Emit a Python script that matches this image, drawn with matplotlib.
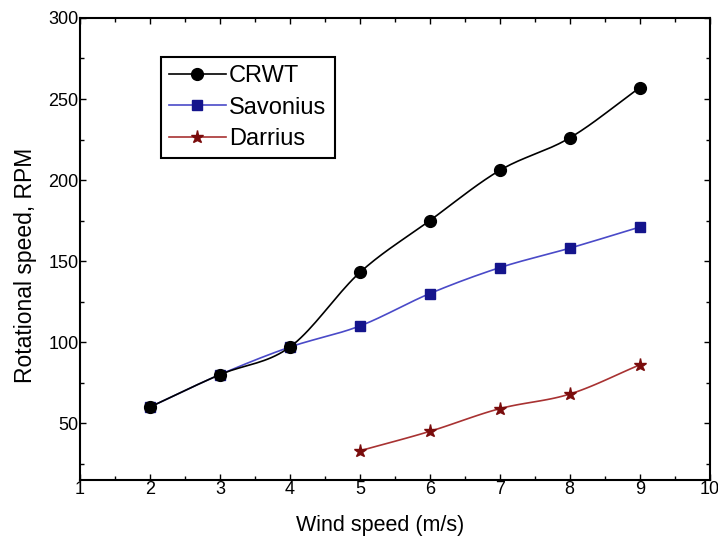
import matplotlib
matplotlib.use('Agg')
import matplotlib.pyplot as plt
import numpy as np

plt.rcParams['font.family'] = ['Liberation Sans', 'DejaVu Sans']

wind = [2, 3, 4, 5, 6, 7, 8, 9]
crwt = [60, 80, 97, 143, 175, 206, 226, 257]
savonius = [60, 80, 97, 110, 130, 146, 158, 171]
wind_d = [5, 6, 7, 8, 9]
darrius = [33, 45, 59, 68, 86]


def smooth(x, y, n=20):
  # catmull-rom curve through the points, only for drawing the line
  x = np.asarray(x, float)
  y = np.asarray(y, float)
  px = np.concatenate([[2 * x[0] - x[1]], x, [2 * x[-1] - x[-2]]])
  py = np.concatenate([[2 * y[0] - y[1]], y, [2 * y[-1] - y[-2]]])
  xs, ys = [], []
  t = np.linspace(0, 1, n)
  for i in range(1, len(px) - 2):
    for p, out in ((px, xs), (py, ys)):
      p0, p1, p2, p3 = p[i - 1], p[i], p[i + 1], p[i + 2]
      out.extend(0.5 * (2 * p1 + (-p0 + p2) * t + (2 * p0 - 5 * p1 + 4 * p2 - p3) * t ** 2
                        + (-p0 + 3 * p1 - 3 * p2 + p3) * t ** 3))
  return xs, ys


fig = plt.figure(figsize=(7.18, 5.36), dpi=100)
ax = fig.add_axes([0.1114, 0.1045, 0.877, 0.862])

series = [
  (wind, crwt, 'CRWT', 'black', 'black', 'o', 8.5, 5),
  (wind, savonius, 'Savonius', '#4a4ac8', '#14148c', 's', 7, 4),
  (wind_d, darrius, 'Darrius', '#a83232', '#7a0c0c', '*', 9.5, 3),
]
for x, y, name, lc, mc, mk, ms, z in series:
  sx, sy = smooth(x, y)
  ax.plot(sx, sy, color=lc, lw=1.2, zorder=z)
  ax.plot(x, y, linestyle='none', marker=mk, color=mc, markersize=ms, zorder=z)
  ax.plot([], [], color=lc, lw=1.2, marker=mk, markerfacecolor=mc,
          markeredgecolor=mc, markersize=ms, label=name)

ax.set_xlim(1, 10)
ax.set_ylim(15, 300)
ax.set_xticks(range(1, 11))
ax.set_xticks(np.arange(1.5, 10, 1), minor=True)
ax.set_yticks([50, 100, 150, 200, 250, 300])
ax.set_yticks([25, 75, 125, 175, 225, 275], minor=True)
ax.tick_params(which='both', direction='in', top=True, right=True, labelsize=13, pad=1)
ax.tick_params(which='major', length=4, width=1)
ax.tick_params(which='minor', length=3, width=1)
for s in ax.spines.values():
  s.set_linewidth(1.5)

ax.set_xlabel('Wind speed (m/s)', fontsize=15.5)
ax.set_ylabel('Rotational speed, RPM', fontsize=16.5)
ax.xaxis.set_label_coords(0.477, -0.075)
ax.yaxis.set_label_coords(-0.068, 0.465)

leg = ax.legend(loc='upper left', bbox_to_anchor=(0.128, 0.9156), borderaxespad=0,
                fontsize=17, fancybox=False, framealpha=1, edgecolor='black',
                handlelength=2.4, handletextpad=0.15, labelspacing=0.4,
                borderpad=0.35)
leg.get_frame().set_linewidth(1.5)

plt.savefig('out.png', dpi=100)
